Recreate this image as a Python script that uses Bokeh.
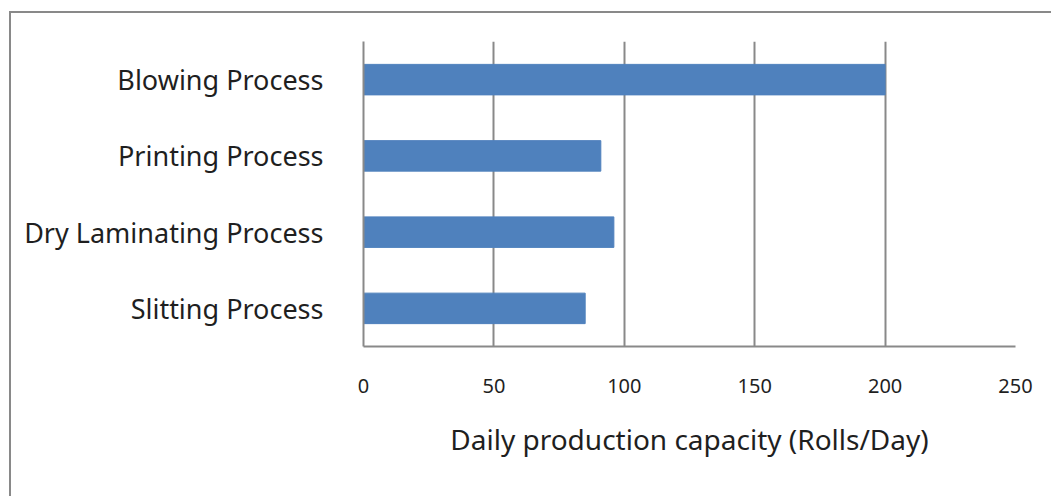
from bokeh.plotting import figure
from bokeh.models import FactorRange, Range1d, FixedTicker, ColumnDataSource
from bokeh.embed import file_html
from bokeh.resources import INLINE

# Daily production capacity per process (rolls/day)
processes = ["Blowing Process", "Printing Process", "Dry Laminating Process", "Slitting Process"]
capacity = [200, 91, 96, 85]
x_ticks = [0, 50, 100, 150, 200, 250]

FONT = "Noto Sans"
GRID = "#898989"
TEXT = "#1f1f1f"

source = ColumnDataSource(data=dict(process=processes, capacity=capacity))

p = figure(
    width=1040, height=483,
    frame_width=652, frame_height=305,
    min_border_left=352, min_border_right=36,
    min_border_top=28, min_border_bottom=150,
    y_range=FactorRange(factors=list(reversed(processes))),
    x_range=Range1d(0, 250),
    output_backend="svg", toolbar_location=None,
)

# chart border: only the top and left edges fall inside the page
p.styles = {
    "border-top": f"2px solid {GRID}",
    "border-left": f"2px solid {GRID}",
    "margin-top": "11px",
    "margin-left": "9px",
}

p.hbar(y="process", right="capacity", left=0, height=0.4, source=source,
       fill_color="#4F81BD", line_color="#4F81BD", line_width=1)

p.outline_line_color = None
p.background_fill_color = "white"
p.border_fill_color = "white"

p.xgrid.ticker = FixedTicker(ticks=x_ticks)
p.xgrid.grid_line_color = GRID
p.xgrid.grid_line_width = 2
p.ygrid.grid_line_color = None

p.xaxis.ticker = FixedTicker(ticks=x_ticks)
p.xaxis.axis_label = "Daily production capacity (Rolls/Day)"
p.xaxis.axis_label_text_font = FONT
p.xaxis.axis_label_text_font_size = "28px"
p.xaxis.axis_label_text_font_style = "normal"
p.xaxis.axis_label_text_color = TEXT
p.xaxis.axis_label_standoff = 24
p.xaxis.major_label_text_font = FONT
p.xaxis.major_label_text_font_size = "20px"
p.xaxis.major_label_text_color = TEXT
p.xaxis.major_label_standoff = 26
p.xaxis.axis_line_color = GRID
p.xaxis.axis_line_width = 2
p.xaxis.major_tick_line_color = None
p.xaxis.minor_tick_line_color = None

p.yaxis.major_label_text_font = FONT
p.yaxis.major_label_text_font_size = "27px"
p.yaxis.major_label_text_color = TEXT
p.yaxis.major_label_standoff = 34
p.yaxis.axis_line_color = GRID
p.yaxis.axis_line_width = 2
p.yaxis.major_tick_line_color = None
p.yaxis.minor_tick_line_color = None

open("out.html", "w").write(file_html(p, INLINE))
